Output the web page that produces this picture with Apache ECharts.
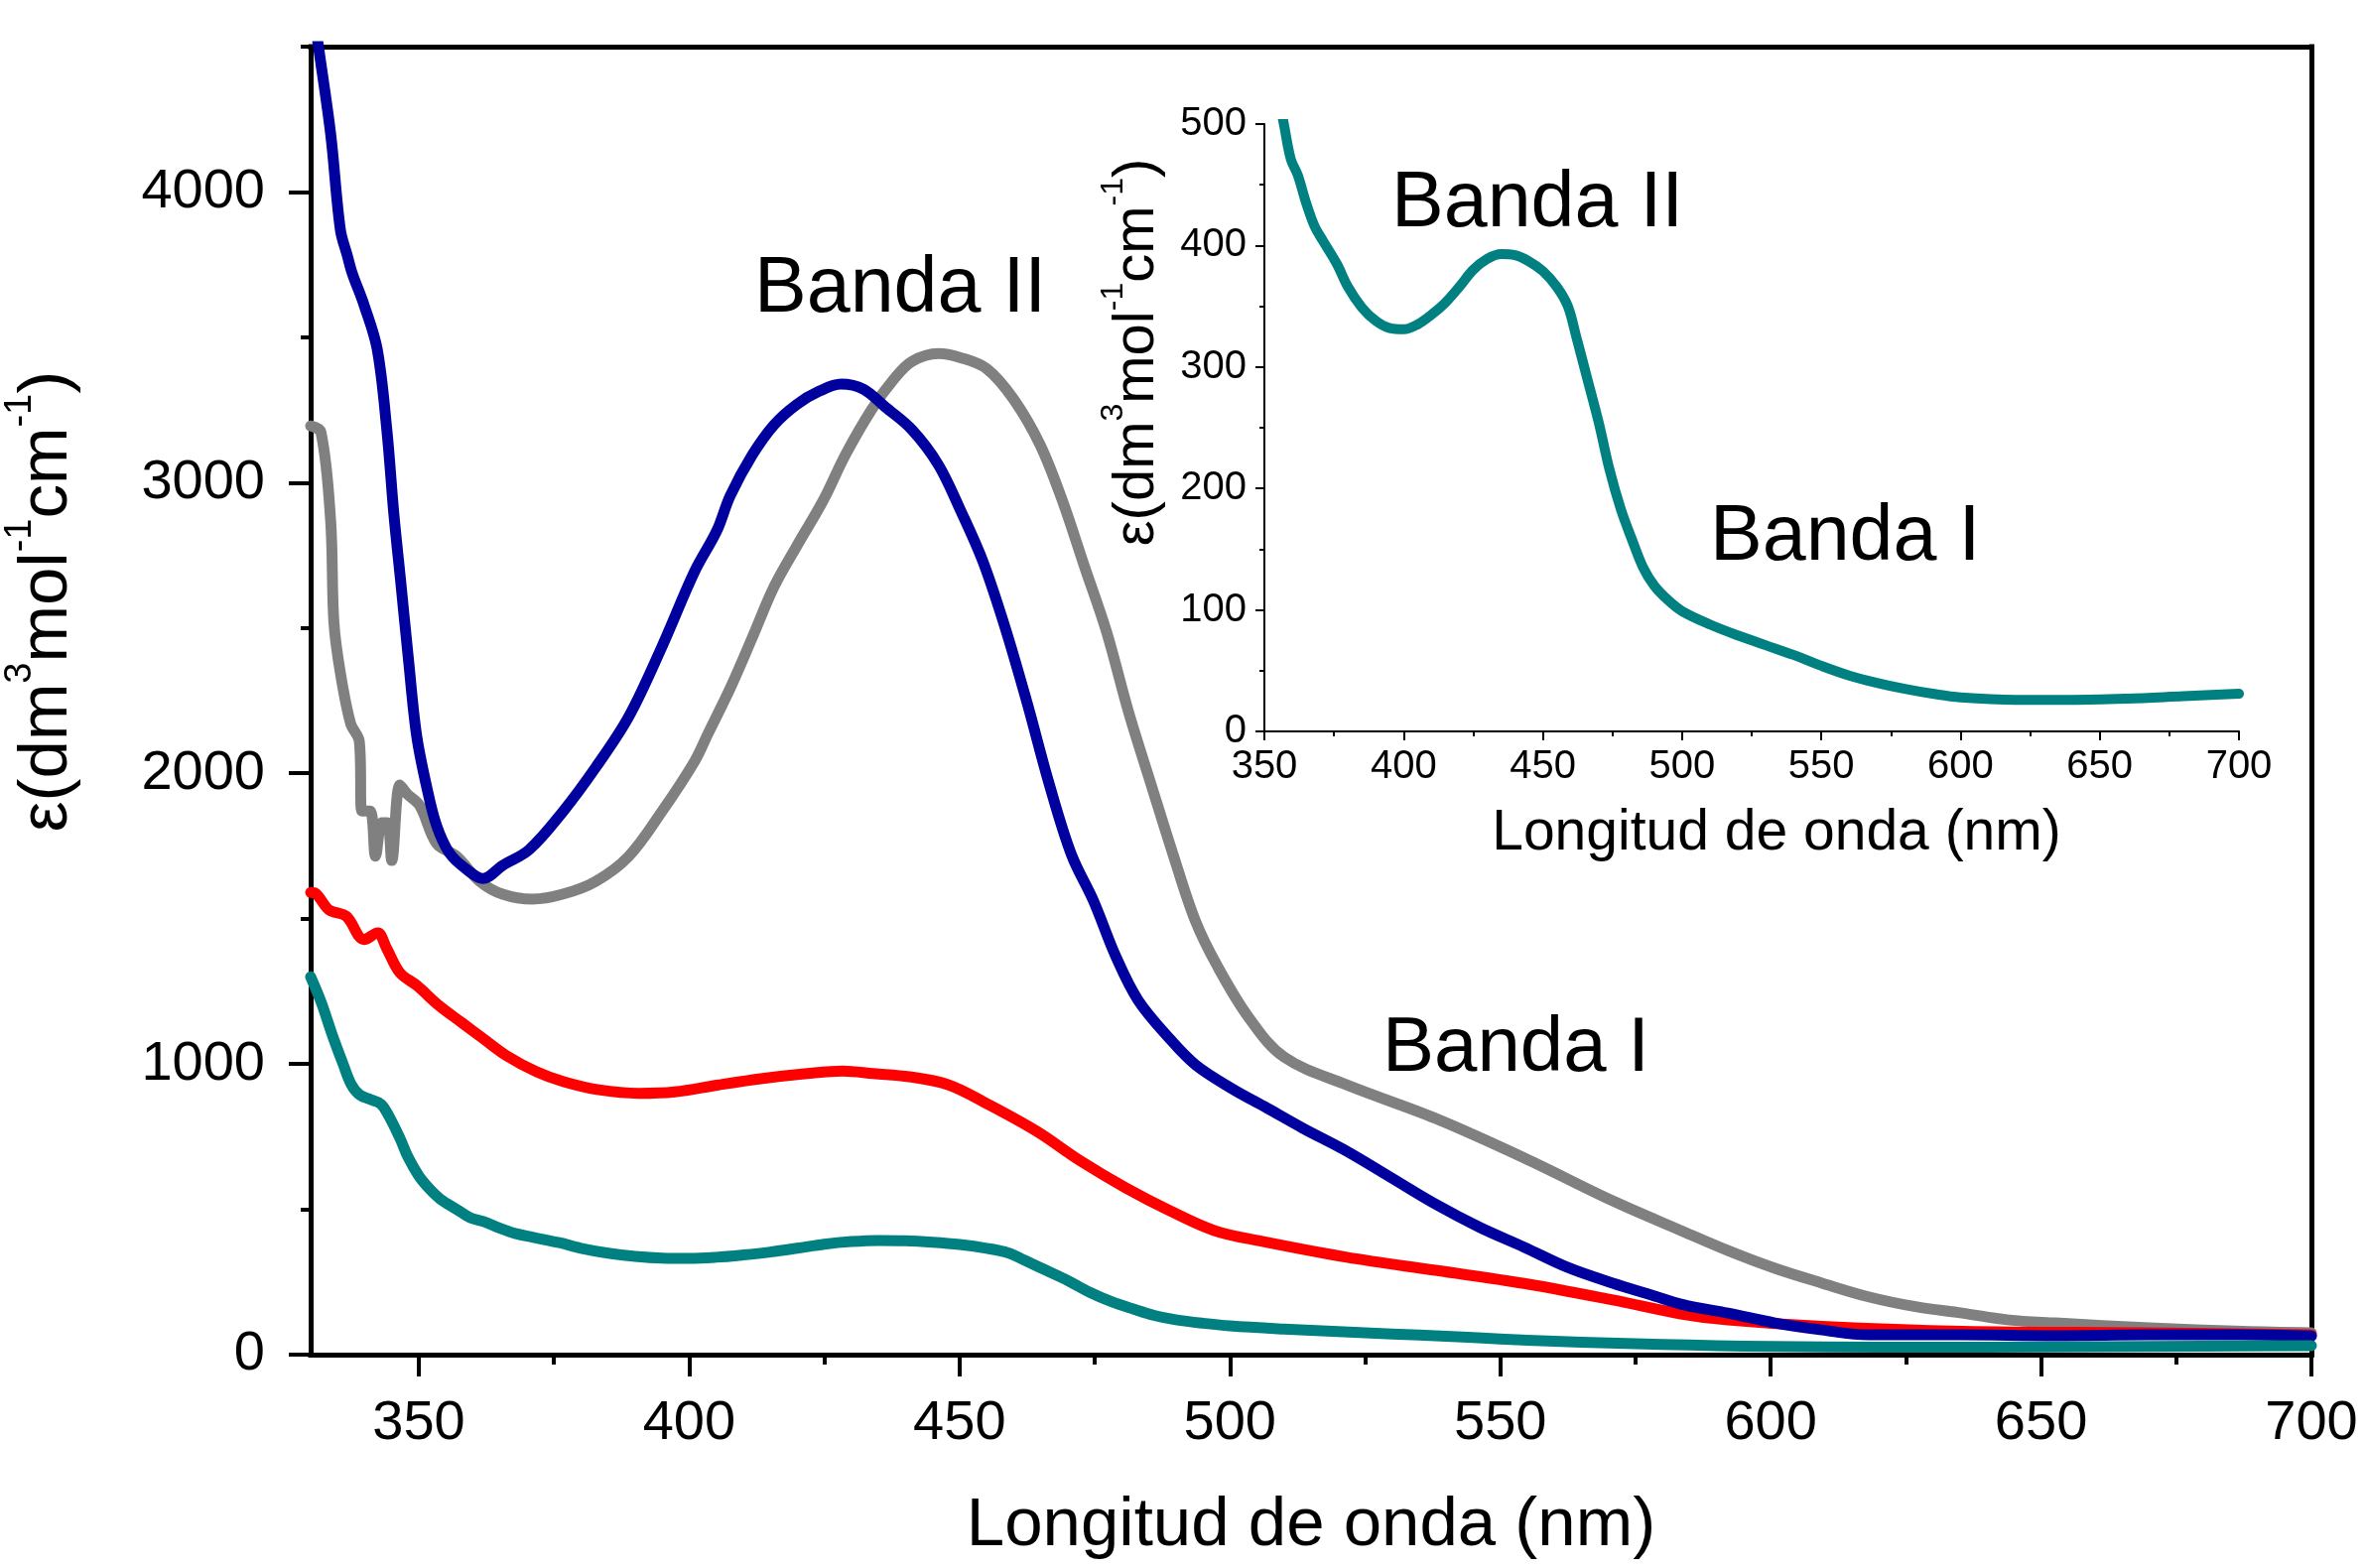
<!DOCTYPE html>
<html><head><meta charset="utf-8">
<script src="https://cdn.jsdelivr.net/npm/echarts@6/dist/echarts.min.js"></script>
<style>html,body{margin:0;padding:0;background:#fff}#c{width:2384px;height:1580px}</style>
</head><body><div id="c"></div>
<script>
// ---- data (wavelength nm, epsilon) ----
const grayData = [[330,3195],[331.9,3174],[333.7,2868],[334.3,2520],[335.5,2345],[337.4,2171],[339.0,2110],[339.5,1870],[341.0,1870],[342.0,1715],[343.2,1830],[344.2,1830],[345.0,1700],[346.5,1960],[347.8,1930],[350.2,1888],[353.3,1758],[357.0,1714],[361.3,1628],[365.5,1584],[371,1567],[376.6,1584],[382.7,1628],[388.8,1714],[394.9,1867],[401,2041],[403.5,2137],[407.6,2293],[411.7,2468],[415.7,2642],[419.9,2782],[424.8,2939],[428.9,3096],[433.8,3253],[437.9,3357],[441.2,3417],[446.1,3444],[450.2,3430],[455.1,3391],[460,3287],[464.9,3130],[469,2939],[473.1,2712],[477.2,2486],[481.3,2208],[485.4,1963],[489.5,1720],[493.6,1493],[497.7,1336],[503.4,1162],[510,1024],[521.6,928],[538,813],[554.4,677],[570.8,529],[583.4,427],[592.1,358],[600.8,297],[609.5,246],[618.1,199],[626.8,165],[635.4,143],[644.1,119],[652.7,109],[670,92],[687.3,80],[700,75]];
const redData = [[330,1590],[330.9,1587],[333.4,1530],[336.6,1508],[339.9,1428],[342.4,1451],[344,1400],[346.5,1314],[349.7,1269],[353.8,1200],[357.9,1143],[362,1086],[366.1,1030],[371.8,973],[376.8,939],[383.3,911],[390.7,899],[397.3,904],[405.4,928],[413.6,950],[421.8,967],[428.4,976],[434.1,967],[440.7,956],[448,928],[455.4,860],[464.3,768],[472.4,666],[480.7,574],[488.9,495],[497.1,427],[505.3,392],[521.6,335],[538,290],[554.4,245],[570.8,188],[583.4,140],[592.1,119],[609.5,97],[635.4,80],[670,75],[700,68]];
const blueData = [[330,4700],[331.3,4520],[333.7,4200],[335.5,3870],[336.8,3780],[337.7,3720],[339.9,3610],[342.3,3460],[344.1,3180],[345.4,2890],[346.6,2670],[348.1,2390],[349.6,2130],[351.5,1950],[353.3,1820],[355.7,1725],[358.8,1670],[361.9,1638],[365.5,1683],[370.4,1737],[376.6,1867],[382.7,2020],[388.8,2194],[394.9,2433],[401,2694],[405.1,2834],[407.6,2955],[411.7,3096],[415.7,3199],[419.9,3269],[424,3314],[428.1,3339],[432.2,3322],[436.3,3260],[441.2,3182],[446.1,3061],[450.2,2904],[454.3,2730],[458.4,2503],[462.5,2242],[466.6,1962],[470.7,1720],[474.8,1560],[478.9,1370],[483,1220],[488.9,1086],[493.7,996],[500.3,916],[506.9,848],[513.4,780],[521.6,700],[529.8,609],[538,518],[546.2,438],[554.4,370],[562.5,300],[570.8,246],[578,205],[583.8,172],[592.1,143],[600.8,109],[609.5,85],[618.1,68],[635,68],[652.7,65],[670,68],[687,68],[700,64]];
const tealData = [[330,1300],[332,1210],[334,1100],[336,1000],[337.5,930],[339,895],[341,878],[343,862],[344.5,820],[346.5,745],[348,680],[350,615],[352,570],[354,535],[357,500],[359.5,471],[362,458],[365,435],[368,416],[371,404],[376,385],[380,366],[385,349],[390,338],[395,332],[400,331],[405,335],[410,343],[415,353],[420,366],[425,380],[430,389],[435,393],[440,392],[445,387],[450,379],[455,366],[459,350],[462,325],[466,290],[470,255],[474,215],[478,183],[482,158],[486,135],[490,120],[495,108],[500,99],[510,88],[520,79],[530,71],[540,63],[550,54],[560,46],[570,40],[580,35],[590,31],[600,28],[620,26],[640,26],[660,27],[680,29],[700,31]];
const xMajor = [350,400,450,500,550,600,650,700];
const xMinor = [375,425,475,525,575,625,675];
const yMajor = [0,1000,2000,3000,4000];
const yMinor = [500,1500,2500,3500,4500];
const xTitle = 'Longitud de onda (nm)';
const yTitleRich = '{b|ε(dm}{s|3}{b|mol}{s|-1}{b|cm}{s|-1}{b|)}';
const bandII = 'Banda II', bandI = 'Banda I';

const FF = 'Liberation Sans, Arial, sans-serif';
const chart = echarts.init(document.getElementById('c'), null, {renderer:'canvas'});
const noSplit = {show:false};
function lineSeries(data, color, xi, yi, w){
  return {type:'line', data, xAxisIndex:xi, yAxisIndex:yi, showSymbol:false, symbol:'none',
    smooth:0.35, clip:true, animation:false,
    lineStyle:{color, width:w, join:'round', cap:'round'}};
}
function richY(fs, sfs, pad){
  return {b:{fontSize:fs, fontFamily:FF, lineHeight:fs, verticalAlign:'bottom', fill:'#000'},
          s:{fontSize:sfs, fontFamily:FF, lineHeight:sfs, verticalAlign:'bottom', padding:[0,0,pad,0], fill:'#000'}};
}
const option = {
  animation:false,
  backgroundColor:'#fff',
  grid:[
    {left:313, top:47, right:55, bottom:215, containLabel:false},
    {left:1274, top:125, right:128, bottom:843, containLabel:false}
  ],
  xAxis:[
    {gridIndex:0, type:'value', position:'bottom', min:330, max:700,
     axisLine:{show:true, onZero:false, lineStyle:{color:'#000', width:5, cap:'square'}},
     axisTick:{show:true, customValues:xMajor, inside:false, length:22, lineStyle:{color:'#000', width:4}},
     axisLabel:{show:true, customValues:xMajor, margin:42, fontSize:56, fontFamily:FF, color:'#000', formatter:v=>String(v)},
     splitLine:noSplit},
    {gridIndex:0, type:'value', position:'bottom', min:330, max:700,
     axisLine:{show:false, onZero:false},
     axisTick:{show:true, customValues:xMinor, length:10, lineStyle:{color:'#000', width:4}},
     axisLabel:{show:false}, splitLine:noSplit},
    {gridIndex:0, type:'value', position:'top', min:330, max:700,
     axisLine:{show:true, onZero:false, lineStyle:{color:'#000', width:5, cap:'square'}},
     axisTick:{show:false}, axisLabel:{show:false}, splitLine:noSplit},
    {gridIndex:1, type:'value', position:'bottom', min:350, max:700, interval:50,
     axisLine:{show:true, onZero:false, lineStyle:{color:'#000', width:2}},
     axisTick:{show:true, length:9, lineStyle:{color:'#000', width:2}},
     minorTick:{show:true, splitNumber:2, length:5, lineStyle:{color:'#000', width:2}},
     axisLabel:{show:true, margin:16, fontSize:40, fontFamily:FF, color:'#000', formatter:v=>String(v)},
     splitLine:noSplit, minorSplitLine:{show:false}}
  ],
  yAxis:[
    {gridIndex:0, type:'value', position:'left', min:0, max:4500,
     axisLine:{show:true, onZero:false, lineStyle:{color:'#000', width:5, cap:'square'}},
     axisTick:{show:true, customValues:yMajor, length:22, lineStyle:{color:'#000', width:4}},
     axisLabel:{show:true, customValues:yMajor, margin:46, fontSize:56, fontFamily:FF, color:'#000', formatter:v=>String(v)},
     splitLine:noSplit},
    {gridIndex:0, type:'value', position:'left', min:0, max:4500,
     axisLine:{show:false, onZero:false},
     axisTick:{show:true, customValues:yMinor, length:10, lineStyle:{color:'#000', width:4}},
     axisLabel:{show:false}, splitLine:noSplit},
    {gridIndex:0, type:'value', position:'right', min:0, max:4500,
     axisLine:{show:true, onZero:false, lineStyle:{color:'#000', width:5, cap:'square'}},
     axisTick:{show:false}, axisLabel:{show:false}, splitLine:noSplit},
    {gridIndex:1, type:'value', position:'left', min:0, max:500, interval:100,
     axisLine:{show:true, onZero:false, lineStyle:{color:'#000', width:2}},
     axisTick:{show:true, length:9, lineStyle:{color:'#000', width:2}},
     minorTick:{show:true, splitNumber:2, length:5, lineStyle:{color:'#000', width:2}},
     axisLabel:{show:true, margin:18, fontSize:40, fontFamily:FF, color:'#000', formatter:v=>String(v)},
     splitLine:noSplit, minorSplitLine:{show:false}}
  ],
  series:[
    lineSeries(grayData, '#808080', 0, 0, 11),
    lineSeries(redData, '#FF0000', 0, 0, 11),
    lineSeries(blueData, '#00009F', 0, 0, 11),
    lineSeries(tealData, '#008080', 0, 0, 11),
    lineSeries(tealData, '#008080', 3, 3, 10)
  ],
  graphic:[
    {type:'text', x:1321, y:1538, style:{text:xTitle, fontSize:69, fontFamily:FF, fill:'#000', align:'center', verticalAlign:'middle'}},
    {type:'text', x:48, y:606, rotation:Math.PI/2, style:{text:yTitleRich, fontSize:69, fontFamily:FF, fill:'#000', align:'center', verticalAlign:'middle', rich:richY(69,38,43)}},
    {type:'text', x:1790, y:840, style:{text:xTitle, fontSize:57, fontFamily:FF, fill:'#000', align:'center', verticalAlign:'middle'}},
    {type:'text', x:1146, y:355, rotation:Math.PI/2, style:{text:yTitleRich, fontSize:58, fontFamily:FF, fill:'#000', align:'center', verticalAlign:'middle', rich:richY(58,32,37)}},
    {type:'text', x:760, y:292, style:{text:bandII, fontSize:79, fontFamily:FF, fill:'#000', align:'left', verticalAlign:'middle'}},
    {type:'text', x:1393, y:1057, style:{text:bandI, fontSize:78, fontFamily:FF, fill:'#000', align:'left', verticalAlign:'middle'}},
    {type:'text', x:1402, y:206, style:{text:bandII, fontSize:79, fontFamily:FF, fill:'#000', align:'left', verticalAlign:'middle'}},
    {type:'text', x:1723, y:542, style:{text:bandI, fontSize:79, fontFamily:FF, fill:'#000', align:'left', verticalAlign:'middle'}}
  ]
};
chart.setOption(option);
</script></body></html>
